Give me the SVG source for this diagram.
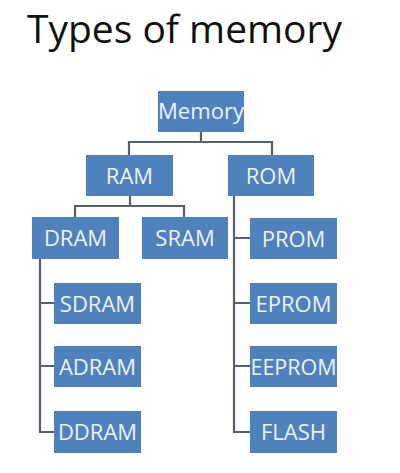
<svg xmlns="http://www.w3.org/2000/svg" width="400" height="473" viewBox="0 0 400 473">
<style>
.box{fill:#4F81BD;}
.lbl{font-family:"Open Sans","Liberation Sans",sans-serif;font-size:22px;fill:#EEF3FA;text-anchor:middle;}
.con{fill:none;stroke:#55606E;stroke-width:2.2;}
.title{font-family:"Open Sans","Liberation Sans",sans-serif;font-size:39px;fill:#111;}
</style>
<rect width="400" height="473" fill="#ffffff"/>
<text class="title" x="27" y="43" textLength="315" lengthAdjust="spacingAndGlyphs">Types of memory</text>
<g id="connectors">
<path class="con" d="M201,132 V142 M129,142 H272 M129,141 V155 M272,141 V155"/>
<path class="con" d="M130,196 V206 M75,206 H184 M75,205 V217 M184,205 V217"/>
<path class="con" d="M40,259 V432 H54 M40,303 H54 M40,366 H54"/>
<path class="con" d="M234,196 V432 H250 M234,238 H250 M234,303 H250 M234,366 H250"/>
</g>
<g id="memory"><rect class="box" x="158" y="91" width="86" height="41"/><text class="lbl" x="201" y="119" textLength="86" lengthAdjust="spacingAndGlyphs">Memory</text></g>
<g id="ram"><rect class="box" x="86" y="155" width="87" height="41"/><text class="lbl" x="129.5" y="183.5">RAM</text></g>
<g id="rom"><rect class="box" x="228" y="155" width="86" height="41"/><text class="lbl" x="271" y="183.5">ROM</text></g>
<g id="dram"><rect class="box" x="32" y="217" width="87" height="42"/><text class="lbl" x="75.5" y="246">DRAM</text></g>
<g id="sram"><rect class="box" x="142" y="217" width="86" height="42"/><text class="lbl" x="185" y="246">SRAM</text></g>
<g id="sdram"><rect class="box" x="54" y="283" width="87" height="41"/><text class="lbl" x="97.5" y="311.5">SDRAM</text></g>
<g id="adram"><rect class="box" x="54" y="346" width="87" height="41"/><text class="lbl" x="97.5" y="374.5">ADRAM</text></g>
<g id="ddram"><rect class="box" x="54" y="411" width="87" height="42"/><text class="lbl" x="97.5" y="440">DDRAM</text></g>
<g id="prom"><rect class="box" x="250" y="218" width="87" height="41"/><text class="lbl" x="293.5" y="246.5">PROM</text></g>
<g id="eprom"><rect class="box" x="250" y="283" width="87" height="41"/><text class="lbl" x="293.5" y="311.5">EPROM</text></g>
<g id="eeprom"><rect class="box" x="250" y="346" width="87" height="41"/><text class="lbl" x="293.5" y="374.5" textLength="86" lengthAdjust="spacingAndGlyphs">EEPROM</text></g>
<g id="flash"><rect class="box" x="250" y="411" width="87" height="42"/><text class="lbl" x="293.5" y="440">FLASH</text></g>
</svg>
